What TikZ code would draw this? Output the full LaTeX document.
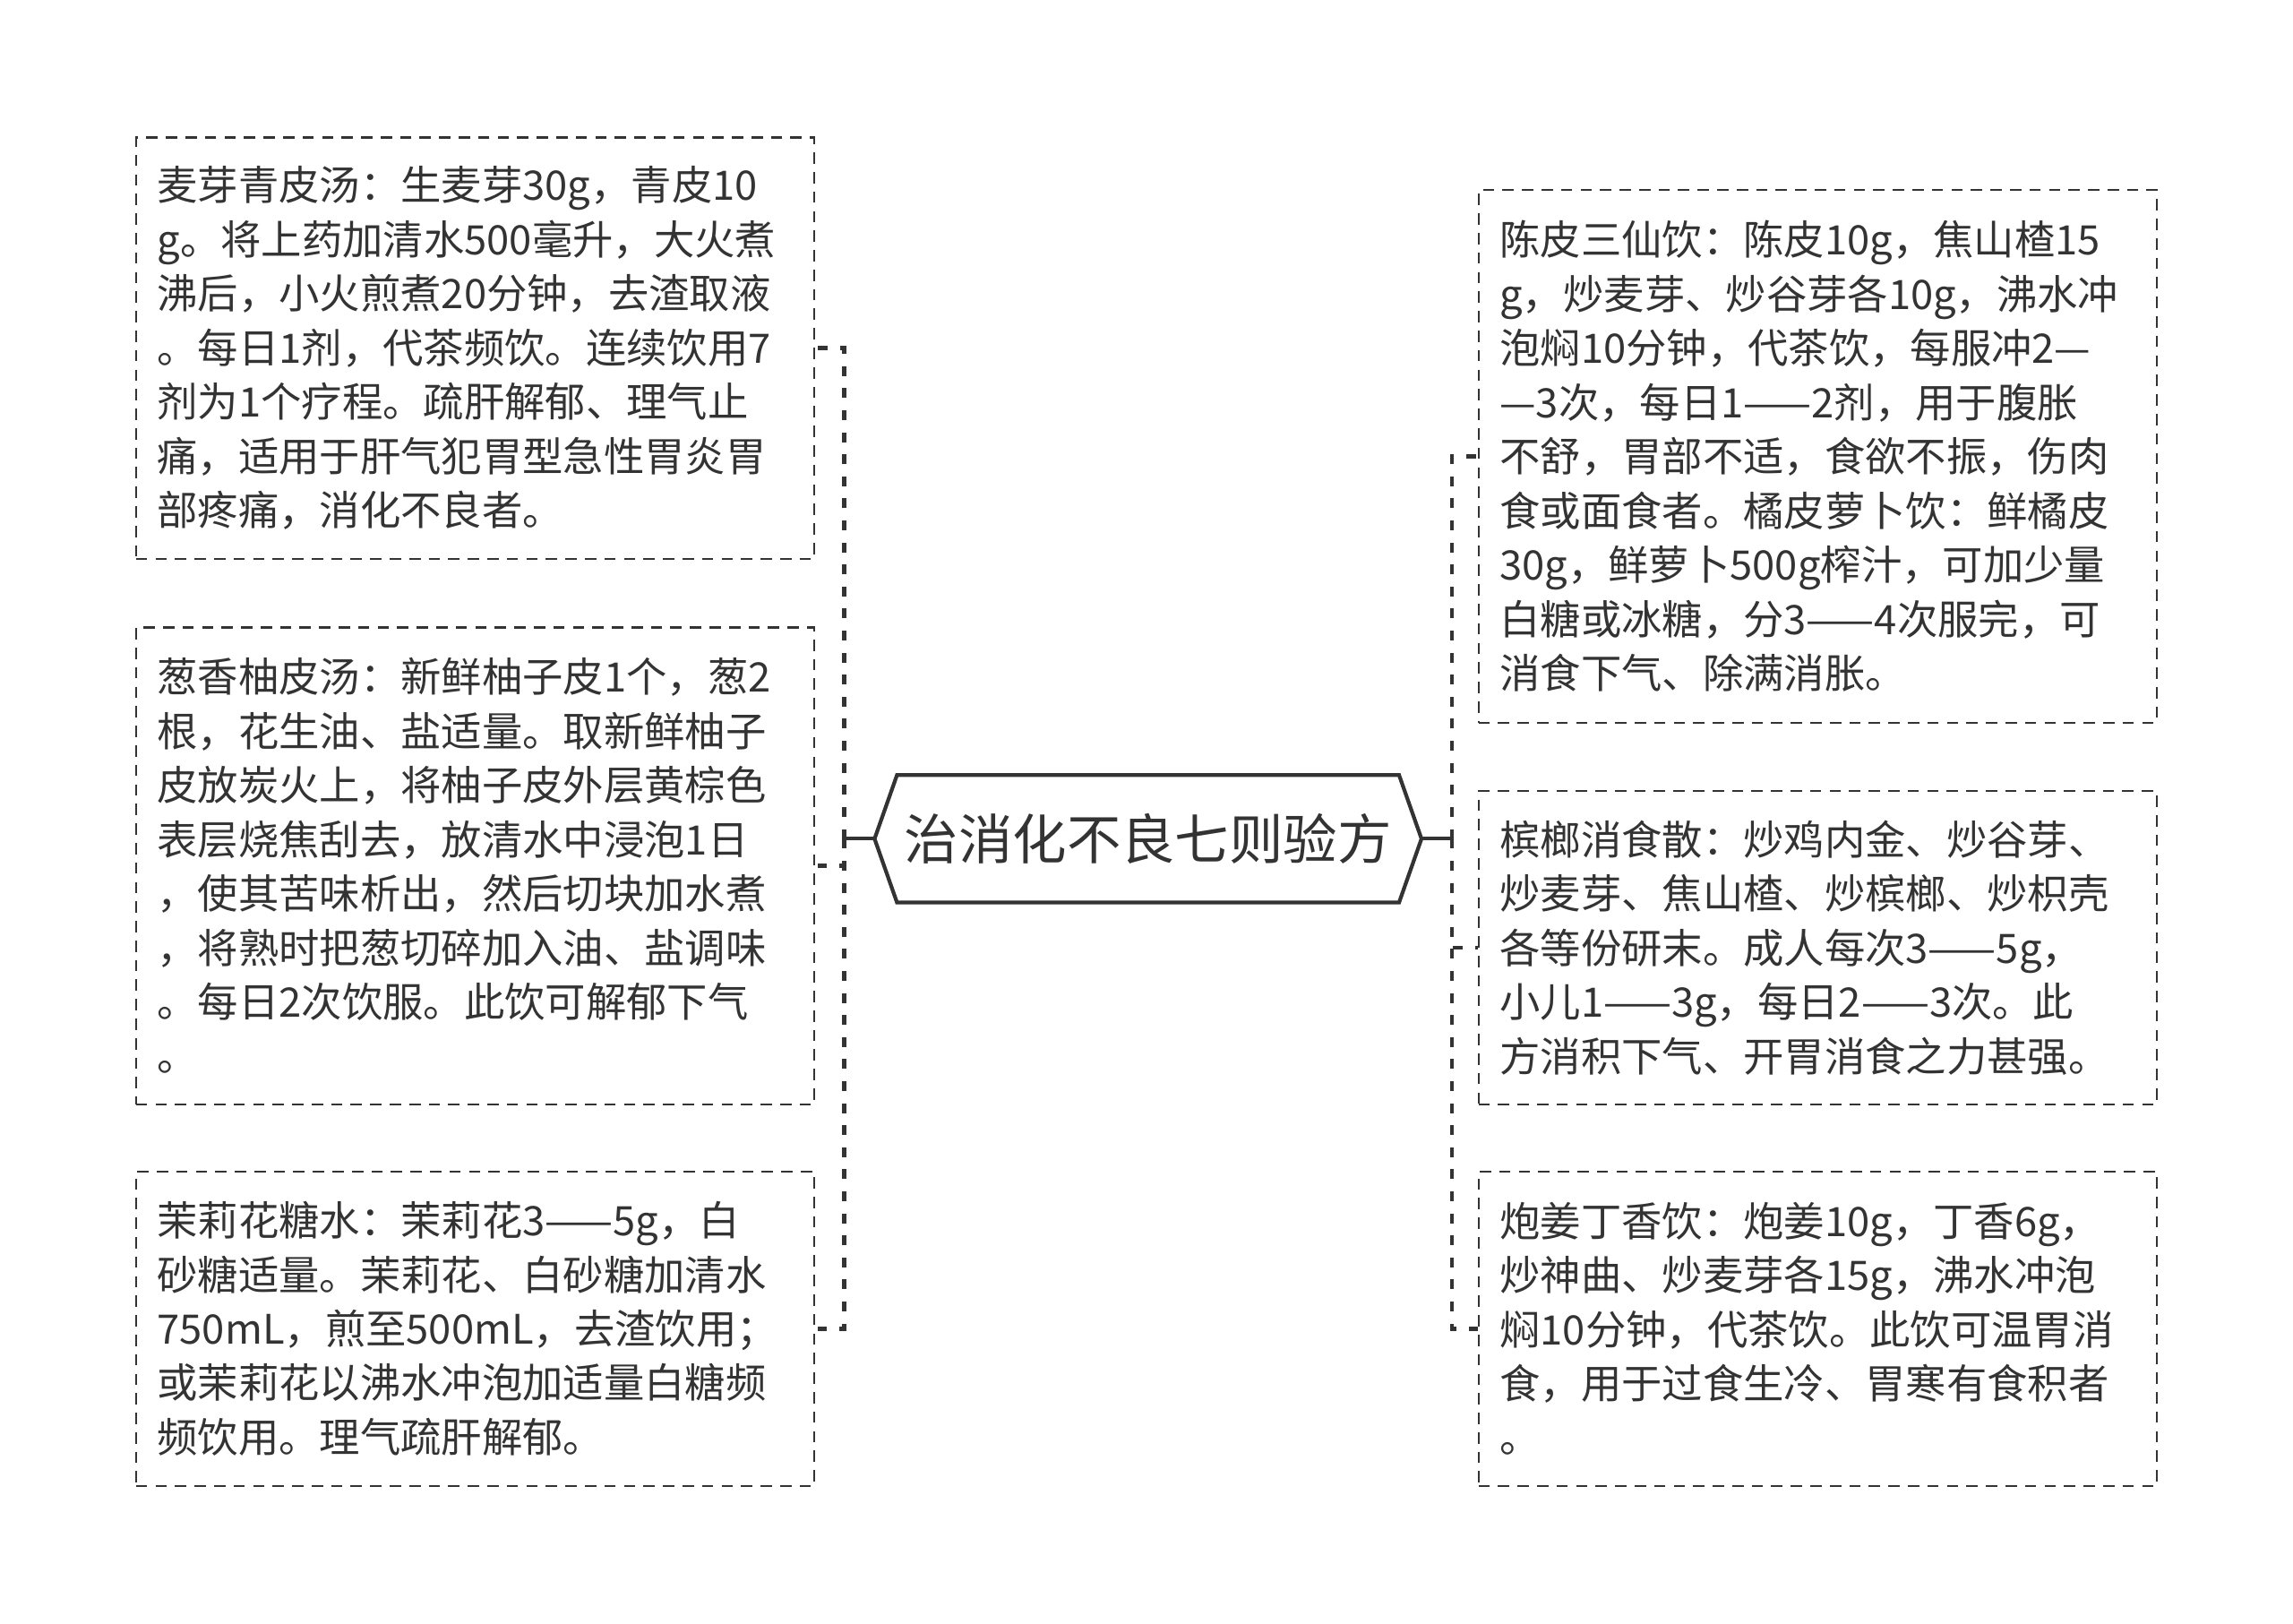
\documentclass[tikz,border=0pt]{standalone}
\usepackage{fontspec}
\setmainfont{Noto Sans CJK SC}
\usepackage{tikz}
\usetikzlibrary{calc}
\definecolor{inkgrey}{HTML}{333333}

\begin{document}
\begin{tikzpicture}[
    every node/.style={text=inkgrey, font=\fontsize{12.9pt}{17.2pt}\selectfont},
    recipe/.style={draw=inkgrey, line width=0.6pt, dash pattern=on 3.6pt off 2.6pt,
        text width=7.1cm, align=left, minimum width=7.576cm, inner sep=0pt},
    title/.style={minimum width=6.106cm, minimum height=1.421cm, inner sep=0pt, outer sep=0pt,
        font=\fontsize{17.2pt}{20pt}\selectfont},
    hexline/.style={draw=inkgrey, line width=1.2pt, line join=miter},
    stub/.style={draw=inkgrey, line width=1.1pt},
    link/.style={draw=inkgrey, line width=1.4pt, dash pattern=on 3.1pt off 3.9pt}
]
    \useasboundingbox (0,0) rectangle (25.6,-18.13);

    % The central title
    \node[title] (hub) at (12.817,-9.364) {治消化不良七则验方};
    \draw[hexline] (hub.west) -- ($(hub.north west)+(0.25,0)$) -- ($(hub.north east)+(-0.25,0)$)
        -- (hub.east) -- ($(hub.south east)+(-0.25,0)$) -- ($(hub.south west)+(0.25,0)$) -- cycle;

    % Left recipes
    \node[recipe, minimum height=4.702cm] (maiya) at (5.306,-3.886) {麦芽青皮汤：生麦芽30g，青皮10\\
g。将上药加清水500毫升，大火煮\\
沸后，小火煎煮20分钟，去渣取液\\
。每日1剂，代茶频饮。连续饮用7\\
剂为1个疗程。疏肝解郁、理气止\\
痛，适用于肝气犯胃型急性胃炎胃\\
部疼痛，消化不良者。};
    \node[recipe, minimum height=5.323cm] (congxiang) at (5.306,-9.666) {葱香柚皮汤：新鲜柚子皮1个，葱2\\
根，花生油、盐适量。取新鲜柚子\\
皮放炭火上，将柚子皮外层黄棕色\\
表层烧焦刮去，放清水中浸泡1日\\
，使其苦味析出，然后切块加水煮\\
，将熟时把葱切碎加入油、盐调味\\
。每日2次饮服。此饮可解郁下气\\
。};
    \node[recipe, minimum height=3.51cm] (moli) at (5.306,-14.833) {茉莉花糖水：茉莉花3——5g，白\\
砂糖适量。茉莉花、白砂糖加清水\\
750mL，煎至500mL，去渣饮用；\\
或茉莉花以沸水冲泡加适量白糖频\\
频饮用。理气疏肝解郁。};

    % Right recipes
    \node[recipe, minimum height=5.943cm] (chenpi) at (20.294,-5.094) {陈皮三仙饮：陈皮10g，焦山楂15\\
g，炒麦芽、炒谷芽各10g，沸水冲\\
泡焖10分钟，代茶饮，每服冲2—\\
—3次，每日1——2剂，用于腹胀\\
不舒，胃部不适，食欲不振，伤肉\\
食或面食者。橘皮萝卜饮：鲜橘皮\\
30g，鲜萝卜500g榨汁，可加少量\\
白糖或冰糖，分3——4次服完，可\\
消食下气、除满消胀。};
    \node[recipe, minimum height=3.494cm] (binlang) at (20.294,-10.58) {槟榔消食散：炒鸡内金、炒谷芽、\\
炒麦芽、焦山楂、炒槟榔、炒枳壳\\
各等份研末。成人每次3——5g，\\
小儿1——3g，每日2——3次。此\\
方消积下气、开胃消食之力甚强。};
    \node[recipe, minimum height=3.51cm] (paojiang) at (20.294,-14.833) {炮姜丁香饮：炮姜10g，丁香6g，\\
炒神曲、炒麦芽各15g，沸水冲泡\\
焖10分钟，代茶饮。此饮可温胃消\\
食，用于过食生冷、胃寒有食积者\\
。};

    % Connectors
    \coordinate (lhub) at ($(hub.west)+(-0.34,0)$);
    \coordinate (rhub) at ($(hub.east)+(0.34,0)$);
    \draw[stub] (hub.west) -- (lhub);
    \draw[stub] (hub.east) -- (rhub);
    \foreach \b in {maiya, congxiang, moli}
        \draw[link] (lhub) |- (\b.east);
    \foreach \b in {chenpi, binlang, paojiang}
        \draw[link] (rhub) |- (\b.west);
\end{tikzpicture}
\end{document}
